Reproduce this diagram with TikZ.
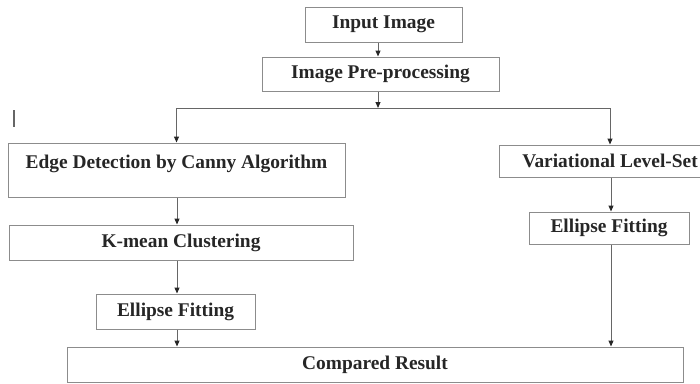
\documentclass[tikz,border=0pt]{standalone}
\usepackage{fontspec}
\setmainfont{Liberation Serif}
\usetikzlibrary{arrows.meta}
\begin{document}
\begin{tikzpicture}
  [x=1pt,y=-1pt,>={Triangle[length=6pt,width=5pt,color=black!85]},
   box/.style={draw=black!45,line width=1pt,inner sep=0pt,text=black!85,
     font=\fontsize{19.4}{23}\selectfont\bfseries},
   link/.style={->,draw=black!60,line width=1pt}]
  \useasboundingbox (0,0) rectangle (700,383);

  % Parte superior
  \node[box,minimum width=157,minimum height=35] (in) at (383.5,24.5) {Input Image};
  \node[box,minimum width=237,minimum height=34] (pre) at (380.5,74) {Image Pre-processing};
  \coordinate (split) at (378,108);

  % Rama izquierda
  \node[box,minimum width=337,minimum height=54,text depth=17pt] (edge) at (176.5,170) {Edge Detection by Canny Algorithm};
  \node[box,minimum width=344,minimum height=35] (km) at (181,242.5) {K-mean Clustering};
  \node[box,minimum width=159,minimum height=35] (ell1) at (175.5,311.5) {Ellipse Fitting};

  % Rama derecha
  \node[box,minimum width=222,minimum height=32] (vls) at (610,161) {Variational Level-Set};
  \node[box,minimum width=160,minimum height=32] (ell2) at (609,228) {Ellipse Fitting};

  % Resultado
  \node[box,minimum width=616,minimum height=35] (cmp) at (375,364.5) {Compared Result};

  % Flechas
  \draw[link] (in.south -| split) -- (pre.north -| split);
  \draw[link] (pre.south -| split) -- (split);
  \draw[link] (split) -| (edge.north);
  \draw[link] (split) -| (vls.north);
  \foreach \from/\to in {edge/km, km/ell1, ell1/cmp}
    \draw[link] (\from.south -| 177,0) -- (\to.north -| 177,0);
  \foreach \from/\to in {vls/ell2, ell2/cmp}
    \draw[link] (\from.south -| 611,0) -- (\to.north -| 611,0);

  % Marca suelta a la izquierda
  \draw[black!60,line width=1.2pt] (14,110) -- (14,127);

\end{tikzpicture}
\end{document}
